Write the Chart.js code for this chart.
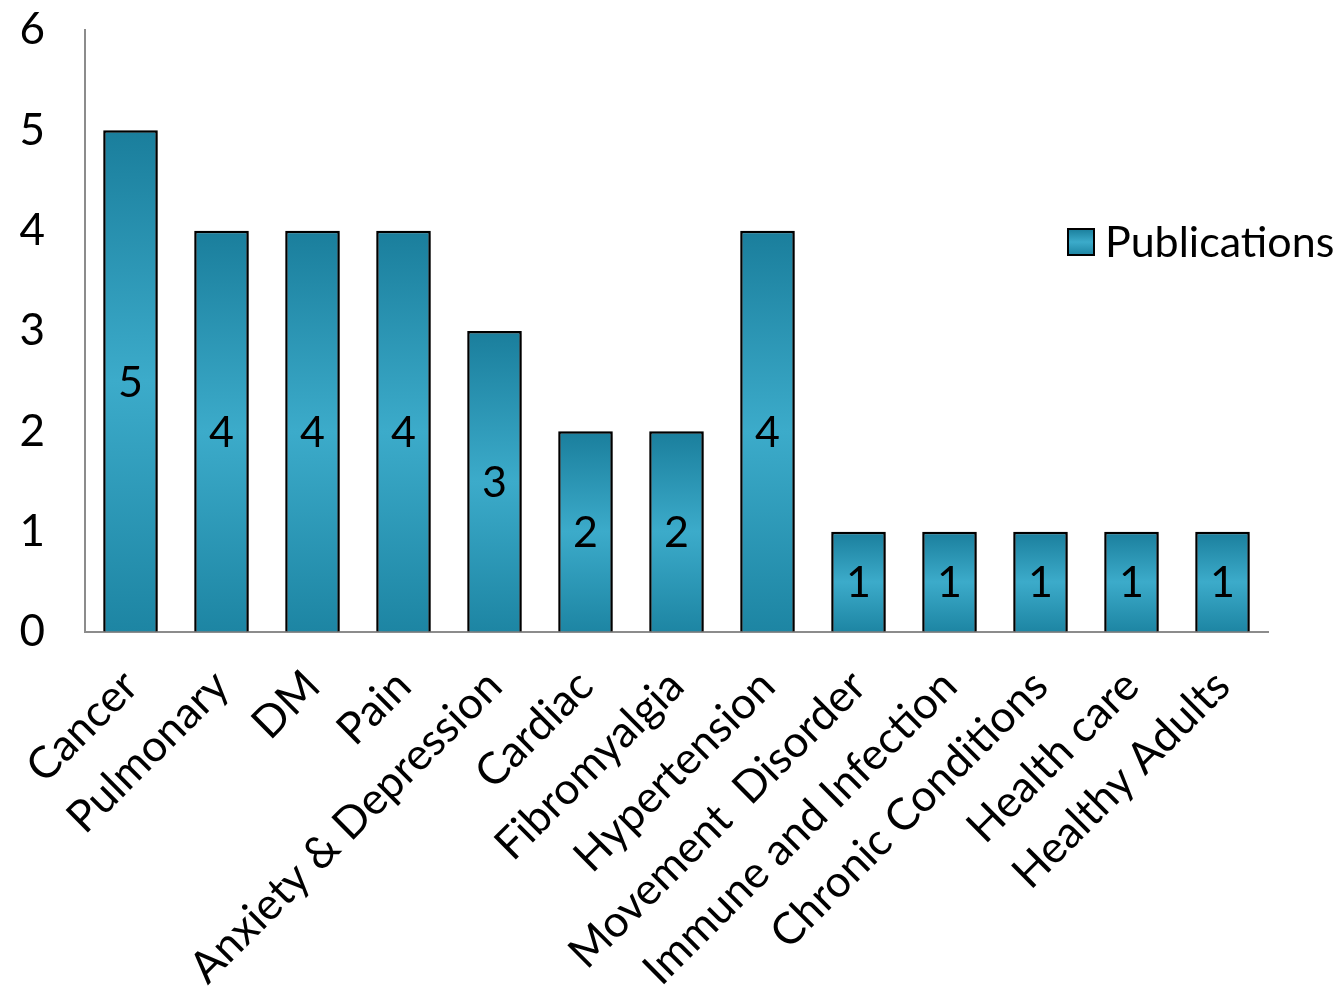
<!DOCTYPE html>
<html>
<head>
<meta charset="utf-8">
<script src="https://cdn.jsdelivr.net/npm/chart.js@4.4.1/dist/chart.umd.min.js"></script>
<style>
  html, body { margin: 0; padding: 0; background: #fff; }
  #wrap { width: 1342px; height: 996px; position: relative; }
</style>
</head>
<body>
<div id="wrap"><canvas id="chart"></canvas></div>
<script>
const categories = ['Cancer', 'Pulmonary', 'DM', 'Pain', 'Anxiety & Depression', 'Cardiac', 'Fibromyalgia',
  'Hypertension', 'Movement  Disorder', 'Immune and Infection', 'Chronic Conditions', 'Health care', 'Healthy Adults'];
const publications = [5, 4, 4, 4, 3, 2, 2, 4, 1, 1, 1, 1, 1];
const seriesName = 'Publications';
const yTicks = [0, 1, 2, 3, 4, 5, 6];

const FONT = 'Lato, "Open Sans", sans-serif';

function fillGradient(ctx, top, bottom) {
  const g = ctx.createLinearGradient(0, top, 0, bottom);
  g.addColorStop(0, '#1a7e9c');
  g.addColorStop(0.5, '#3cabca');
  g.addColorStop(1, '#1d85a3');
  return g;
}

function barFill(context) {
  const chart = context.chart;
  if (!chart.chartArea || context.raw === undefined) return '#2a96b6';
  const y = chart.scales.y;
  return fillGradient(chart.ctx, y.getPixelForValue(context.raw), y.getPixelForValue(0));
}

// ombra leggera sotto le barre
const shadowPlugin = {
  id: 'barShadow',
  beforeDatasetDraw(chart) {
    const ctx = chart.ctx;
    ctx.save();
    ctx.shadowColor = 'rgba(0,0,0,0.3)';
    ctx.shadowBlur = 6;
    ctx.shadowOffsetX = 2;
    ctx.shadowOffsetY = 2;
  },
  afterDatasetDraw(chart) { chart.ctx.restore(); }
};

// valori al centro della barra
const valueLabelPlugin = {
  id: 'valueLabels',
  afterDatasetsDraw(chart) {
    const ctx = chart.ctx;
    const meta = chart.getDatasetMeta(0);
    ctx.save();
    ctx.fillStyle = '#000';
    ctx.font = '43px ' + FONT;
    ctx.textAlign = 'center';
    ctx.textBaseline = 'middle';
    meta.data.forEach((bar, i) => {
      ctx.fillText(String(chart.data.datasets[0].data[i]), bar.x, (bar.y + bar.base) / 2 + 2);
    });
    ctx.restore();
  }
};

// legenda a destra
const legendPlugin = {
  id: 'sideLegend',
  afterDraw(chart) {
    const ctx = chart.ctx;
    const x = 1068, y = 229, s = 26;
    ctx.save();
    ctx.fillStyle = fillGradient(ctx, y, y + s);
    ctx.fillRect(x, y, s, s);
    ctx.strokeStyle = '#000';
    ctx.lineWidth = 2;
    ctx.strokeRect(x, y, s, s);
    ctx.fillStyle = '#000';
    ctx.font = '43px ' + FONT;
    ctx.textAlign = 'left';
    ctx.textBaseline = 'middle';
    ctx.fillText(chart.data.datasets[0].label, 1105, y + s / 2 + 1);
    ctx.restore();
  }
};

new Chart(document.getElementById('chart'), {
  type: 'bar',
  plugins: [shadowPlugin, valueLabelPlugin, legendPlugin],
  data: {
    labels: categories,
    datasets: [{
      label: seriesName,
      data: publications,
      backgroundColor: barFill,
      borderColor: '#000',
      borderWidth: 2.5,
      categoryPercentage: 1,
      barPercentage: 0.6
    }]
  },
  options: {
    responsive: true,
    maintainAspectRatio: false,
    animation: false,
    layout: { padding: { top: 30, right: 74, left: 0, bottom: 0 } },
    scales: {
      y: {
        min: 0, max: 6,
        afterBuildTicks: (scale) => { scale.ticks = yTicks.map(v => ({ value: v })); },
        afterFit: (scale) => { scale.width = 85; scale.paddingTop = 0; scale.paddingBottom = 0; },
        grid: { drawOnChartArea: false, drawTicks: false },
        border: { display: true, color: '#8c8c8c', width: 2 },
        ticks: { color: '#000', font: { family: FONT, size: 44 }, padding: 40 }
      },
      x: {
        afterFit: (scale) => { scale.height = 364; scale.paddingLeft = 0; scale.paddingRight = 0; },
        grid: { drawOnChartArea: false, drawTicks: false },
        border: { display: true, color: '#8c8c8c', width: 2 },
        ticks: { color: '#000', font: { family: FONT, size: 44 }, minRotation: 45, maxRotation: 45, padding: 28, autoSkip: false }
      }
    },
    plugins: { legend: { display: false }, tooltip: { enabled: false } }
  }
});
</script>
</body>
</html>
